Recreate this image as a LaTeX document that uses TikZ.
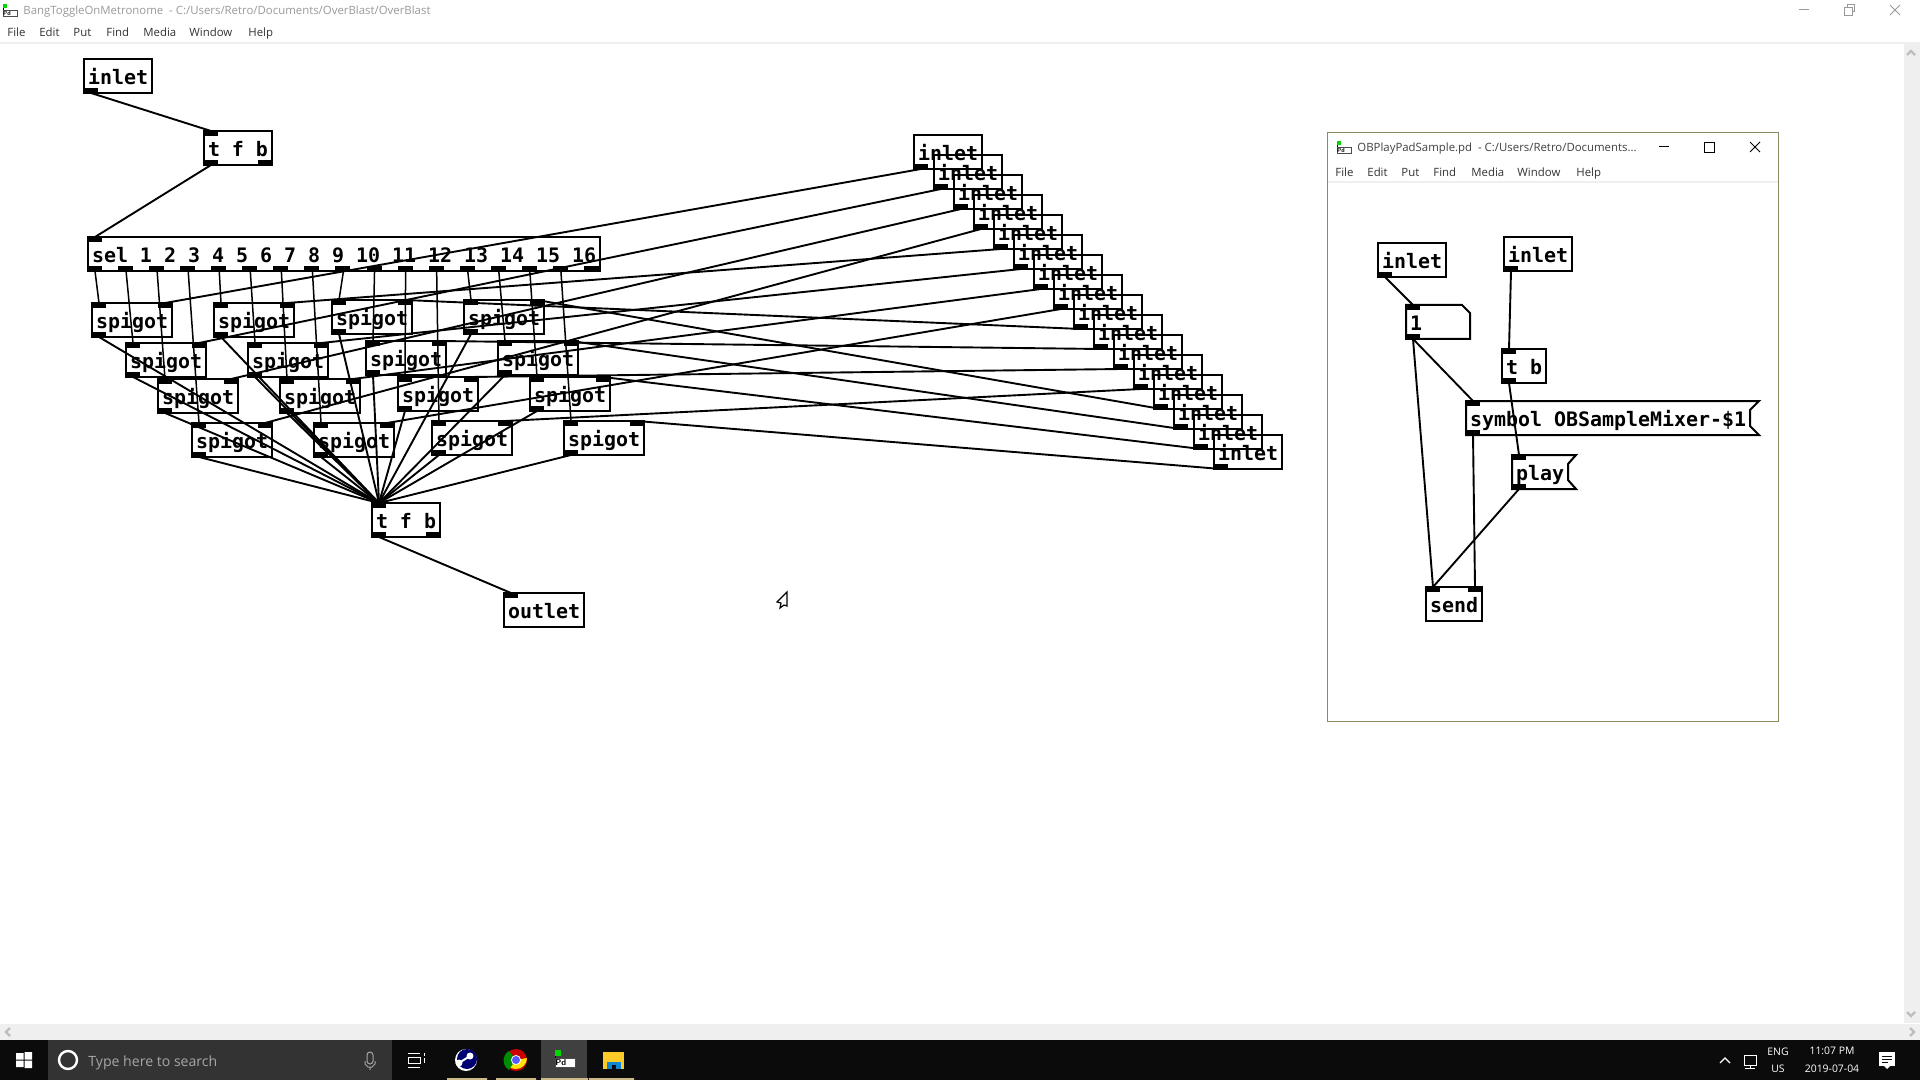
\documentclass[tikz,border=0pt]{standalone}
\usepackage{fontspec}
\setmainfont{Open Sans}
\newfontfamily\pdfont{DejaVu Sans Mono}
\usetikzlibrary{calc}
\definecolor{ttl}{HTML}{9A9A9A}
\definecolor{menu}{HTML}{333333}
\definecolor{barbg}{HTML}{EFEFEF}
\definecolor{taskbg}{HTML}{0B0B0B}
\definecolor{searchbg}{HTML}{333333}
\definecolor{tan}{HTML}{CDB888}
\definecolor{olive}{HTML}{8B8A60}
\definecolor{chev}{HTML}{BDBDBD}
\tikzset{
  pdbox/.style={draw=black,line width=1pt,rectangle,anchor=north west,outer sep=0pt,inner xsep=2pt,inner ysep=0pt,text height=12.7pt,text depth=4.3pt,align=left,font=\pdfont\bfseries\fontsize{9.97}{10}\selectfont},
  msgtext/.style={pdbox,draw=none},
  wire/.style={line width=0.95pt,black},
  thinwire/.style={line width=0.75pt,black},
  ui/.style={font=\fontsize{5.7}{6}\selectfont,text=menu,inner sep=0pt,anchor=base west},
  uititle/.style={font=\fontsize{5.7}{6}\selectfont,text=ttl,inner sep=0pt,anchor=base west},
  tray/.style={font=\fontsize{5.2}{6}\selectfont,text=white,inner sep=0pt},
  tab/.style={fill=black,draw=none},
}
\newcommand{\pdtext}[1]{\mbox{\spaceskip=6pt\relax #1}}
% name, x, y, characters in the box width, text
\newcommand{\pdobj}[5]{\node[pdbox,text width=#4*6pt] (#1) at (#2,#3) {\pdtext{#5}};
  \coordinate (#1-i) at ($(#1.north west)+(7,0)$);
  \coordinate (#1-r) at ($(#1.north east)+(-7,0)$);
  \coordinate (#1-o) at ($(#1.south west)+(7,0)$);}
\newcommand{\tabI}[1]{\fill[tab] ($(#1.north west)+(-1,-1)$) rectangle ++(15,6);}
\newcommand{\tabR}[1]{\fill[tab] ($(#1.north east)+(1,-1)$) rectangle ++(-15,6);}
\newcommand{\tabO}[1]{\fill[tab] ($(#1.south west)+(-1,-5)$) rectangle ++(15,6);}
\newcommand{\tabP}[1]{\fill[tab] ($(#1.south east)+(1,-5)$) rectangle ++(-15,6);}
\newcommand{\spig}[3]{\pdobj{#1}{#2}{#3}{6}{spigot}\tabI{#1}\tabR{#1}\tabO{#1}}
% Pd icon: name, x, y of its top left, size factor, font size
\newcommand{\pdicon}[5]{\begin{scope}[shift={(#2,#3)},x=#4*0.5pt,y=-#4*0.5pt]
  \fill[green!85!black] (0,0) rectangle (4,4);
  \fill[black] (0,4) rectangle (1,6);
  \draw[black!70,line width=.3pt,fill=white] (0,6) rectangle (14,12);
  \node[inner sep=0pt,font=\sffamily\bfseries\fontsize{#5}{#5}\selectfont,text=black] (#1) at (4,9) {Pd};
  \end{scope}}
\begin{document}
\begin{tikzpicture}[x=0.5pt,y=-0.5pt]
\useasboundingbox (0,0) rectangle (1920,1080);
\fill[white] (0,0) rectangle (1920,1080);
% --- main window chrome
\pdicon{iconmain}{3}{4}{1}{3}
\node[uititle] (maintitle) at (23,15) {BangToggleOnMetronome \ - C:/Users/Retro/Documents/OverBlast/OverBlast};
\node[ui] (mfile) at (7,37) {File};
\node[ui] (medit) at (39,37) {Edit};
\node[ui] (mput) at (73,37) {Put};
\node[ui] (mfind) at (106,37) {Find};
\node[ui] (mmedia) at (143,37) {Media};
\node[ui] (mwin) at (189,37) {Window};
\node[ui] (mhelp) at (248,37) {Help};
\fill[barbg] (0,42) rectangle (1920,44);
\draw[black!40,line width=.5pt] (1799,10) -- (1809,10);
\draw[black!40,line width=.5pt] (1844,8) rectangle ++(8,8) (1847,8) -- (1847,5) -- (1854,5) -- (1854,12) -- (1852,12);
\draw[black!40,line width=.5pt] (1890,5) -- (1900,15) (1900,5) -- (1890,15);
% scrollbars
\fill[barbg] (0,1024) rectangle (1920,1040);
\fill[barbg] (1904,44) rectangle (1920,1023);
\draw[chev,line width=1.2pt] (1907,55) -- (1911,51) -- (1915,55);
\draw[chev,line width=1.2pt] (1907,1012) -- (1911,1016) -- (1915,1012);
\draw[chev,line width=1.2pt] (10,1028) -- (6,1032) -- (10,1036);
\draw[chev,line width=1.2pt] (1910,1028) -- (1914,1032) -- (1910,1036);
% --- main patch
\pdobj{inA}{84}{59}{5}{inlet}\tabO{inA}
\pdobj{tfA}{204}{131}{5}{t f b}\tabI{tfA}\tabO{tfA}\tabP{tfA}
\pdobj{sel}{88}{237}{42}{sel 1 2 3 4 5 6 7 8 9 10 11 12 13 14 15 16}\tabI{sel}
\foreach \k in {0,...,16}{
  \coordinate (sel-\k) at ($(sel.south west)+(7+31.06*\k,0)$);
  \fill[tab] ($(sel-\k)+(-8,-5)$) rectangle ++(15,6);
}
\spig{sa}{92}{303}\spig{sb}{214}{303}\spig{sc}{332}{300}\spig{sd}{464}{300}
\spig{se}{126}{343}\spig{sf}{248}{343}\spig{sg}{366}{341}\spig{sh}{498}{341}
\spig{si}{158}{379}\spig{sj}{280}{379}\spig{sk}{398}{377}\spig{sl}{530}{377}
\spig{sm}{192}{423}\spig{sn}{314}{423}\spig{so}{432}{421}\spig{sp}{564}{421}
\pdobj{tfB}{372}{503}{5}{t f b}\tabI{tfB}\tabO{tfB}\tabP{tfB}
\pdobj{out}{504}{593}{6}{outlet}\tabI{out}
% stacked inlets
\foreach \k in {1,...,16}{
  \pdobj{n\k}{914+20*\k-20}{135+20*\k-20}{5}{inlet}\tabO{n\k}
}
% wires
\draw[wire] (inA-o) -- (tfA-i);
\draw[wire] (tfA-o) -- (sel-i);
\draw[wire] (tfB-o) -- (out-i);
\foreach \a/\k in {sa/0,se/1,si/2,sm/3,sb/4,sf/5,sj/6,sn/7,sc/8,sg/9,sk/10,so/11,sd/12,sh/13,sl/14,sp/15}{
  \draw[thinwire] (sel-\k) -- (\a-i);
}
\foreach \a in {sa,sb,sc,sd,se,sf,sg,sh,si,sj,sk,sl,sm,sn,so,sp}{
  \draw[wire] (\a-o) -- (tfB-i);
}
\foreach \k/\a in {1/sa,2/se,3/si,4/sm,5/sb,6/sf,7/sj,8/sn,9/sc,10/sg,11/sk,12/so,13/sd,14/sh,15/sl,16/sp}{
  \draw[wire] (n\k-o) -- (\a-r);
}
% cursor
\draw[black,line width=.6pt,fill=white] (787,592) -- (777,602) -- (781,603) -- (780,608) -- (784,605) -- (787,606) -- cycle;
% --- sub window
\fill[white] (1327,132) rectangle (1779,721);
\draw[olive,line width=.5pt] (1327.5,132.5) rectangle (1778.5,721);
\fill[barbg] (1328,181) rectangle (1778,183);
\pdicon{iconsub}{1337}{141}{1}{3}
\node[uititle,text=black!75] (subtitle) at (1357,152) {OBPlayPadSample.pd \ - C:/Users/Retro/Documents...};
\draw[black,line width=.5pt] (1659,147) -- (1669,147);
\draw[black,line width=.5pt] (1704,143) rectangle ++(10,10);
\draw[black,line width=.5pt] (1750,142) -- (1760,152) (1760,142) -- (1750,152);
\node[ui] (sfile) at (1335,177) {File};
\node[ui] (sedit) at (1367,177) {Edit};
\node[ui] (sput) at (1401,177) {Put};
\node[ui] (sfind) at (1433,177) {Find};
\node[ui] (smedia) at (1471,177) {Media};
\node[ui] (swin) at (1517,177) {Window};
\node[ui] (shelp) at (1576,177) {Help};
\pdobj{inC}{1378}{243}{5}{inlet}\tabO{inC}
\pdobj{inD}{1504}{237}{5}{inlet}\tabO{inD}
% message 1
\node[msgtext,text width=28pt] (one) at (1406,305) {1};
\draw[line width=1pt] (one.north west) -- ($(one.north east)+(-8,0)$) -- ($(one.north east)+(0,8)$) -- (one.south east) -- (one.south west) -- cycle;
\coordinate (one-i) at ($(one.north west)+(7,0)$);
\coordinate (one-o) at ($(one.south west)+(7,0)$);
\tabI{one}\tabO{one}
\pdobj{tb}{1502}{349}{3}{t b}\tabI{tb}\tabO{tb}
% symbol message
\node[msgtext,text width=142.5pt] (sym) at (1466,401) {\pdtext{symbol OBSampleMixer-\$1}};
\draw[line width=1pt] (sym.south east) -- ($(sym.south east)+(-9,-9)$) -- ($(sym.north east)+(-9,9)$) -- (sym.north east) -- (sym.north west) -- (sym.south west) -- cycle;
\coordinate (sym-i) at ($(sym.north west)+(7,0)$);
\coordinate (sym-o) at ($(sym.south west)+(7,0)$);
\tabI{sym}\tabO{sym}
% play message
\node[msgtext,text width=28pt] (play) at (1512,455) {play};
\draw[line width=1pt] (play.south east) -- ($(play.south east)+(-8,-9)$) -- ($(play.north east)+(-8,9)$) -- (play.north east) -- (play.north west) -- (play.south west) -- cycle;
\coordinate (play-i) at ($(play.north west)+(7,0)$);
\coordinate (play-o) at ($(play.south west)+(7,0)$);
\tabI{play}\tabO{play}
\pdobj{send}{1426}{587}{4}{send}\tabI{send}\tabR{send}
\draw[wire] (inC-o) -- (one-i);
\draw[wire] (inD-o) -- (tb-i);
\draw[wire] (one-o) -- (sym-i);
\draw[wire] (one-o) -- (send-i);
\draw[wire] (tb-o) -- (play-i);
\draw[wire] (sym-o) -- (send-r);
\draw[wire] (play-o) -- (send-i);
% --- taskbar
\fill[taskbg] (0,1040) rectangle (1920,1080);
\fill[searchbg] (48,1040) rectangle (392,1080);
\fill[white] (16,1053) rectangle (23.5,1059.5) (24.5,1052) rectangle (32,1059.5) (16,1060.5) rectangle (23.5,1067) (24.5,1060.5) rectangle (32,1068);
\draw[white,line width=1.2pt] (68,1060) circle (9);
\node[uititle,text=black!35,font=\fontsize{7.05}{8}\selectfont] (search) at (88,1066) {Type here to search};
\draw[black!35,line width=.5pt,rounded corners=1.5pt] (367,1052) rectangle (373,1064);
\draw[black!35,line width=.5pt] (365,1061) -- (365,1064) -- (368,1067) -- (372,1067) -- (375,1064) -- (375,1061) (370,1067) -- (370,1070);
\draw[white,line width=.5pt] (408,1053) -- (420,1053) (408,1067) -- (420,1067) (408,1057) rectangle (420,1063) (424,1053) -- (424,1056) (424,1058) -- (424,1063);
\fill[white] (466,1060) circle (11);
\fill[blue!45!black] (467,1059) circle (10);
\fill[white] (470,1056) circle (3.5);
\fill[white] (459,1063) circle (3.5);
\draw[white,line width=1pt] (459,1063) -- (470,1056);
\fill[red!80!black] (516,1060) circle (11);
\fill[green!55!black] (516,1060) -- (509,1070) arc (120:240:11) -- cycle;
\fill[yellow!85!orange] (516,1060) -- (527,1058) arc (0:120:11) -- cycle;
\fill[white] (516,1060) circle (5);
\fill[blue!65] (516,1060) circle (4);
\fill[black!75] (541,1040) rectangle (587,1080);
\pdicon{icontask}{555}{1050}{1.45}{4.3}
\fill[yellow!55!orange!85!white] (603,1052) rectangle (624,1069);
\fill[cyan!70!blue] (607,1062) rectangle (621,1069);
\fill[taskbg] (612,1065) rectangle (616,1069);
\fill[tan] (447,1078) rectangle (487,1080) (496,1078) rectangle (536,1080) (541,1078) rectangle (588,1080) (589,1078) rectangle (634,1080);
\draw[white,line width=.6pt] (1720,1063) -- (1725,1058) -- (1730,1063);
\draw[white,line width=.5pt] (1744,1055) rectangle (1756,1065) (1750,1065) -- (1750,1068) (1745,1068) -- (1755,1068);
\node[tray] (eng) at (1778,1052) {ENG};
\node[tray] (us) at (1778,1069) {US};
\node[tray] (time) at (1832,1051) {11:07 PM};
\node[tray] (date) at (1832,1069) {2019-07-04};
\fill[white] (1879,1052) rectangle (1895,1066);
\fill[white] (1884,1066) -- (1890,1066) -- (1887,1069) -- cycle;
\draw[taskbg,line width=.5pt] (1882,1056) -- (1892,1056) (1882,1059) -- (1892,1059) (1882,1062) -- (1888,1062);
\end{tikzpicture}
\end{document}
